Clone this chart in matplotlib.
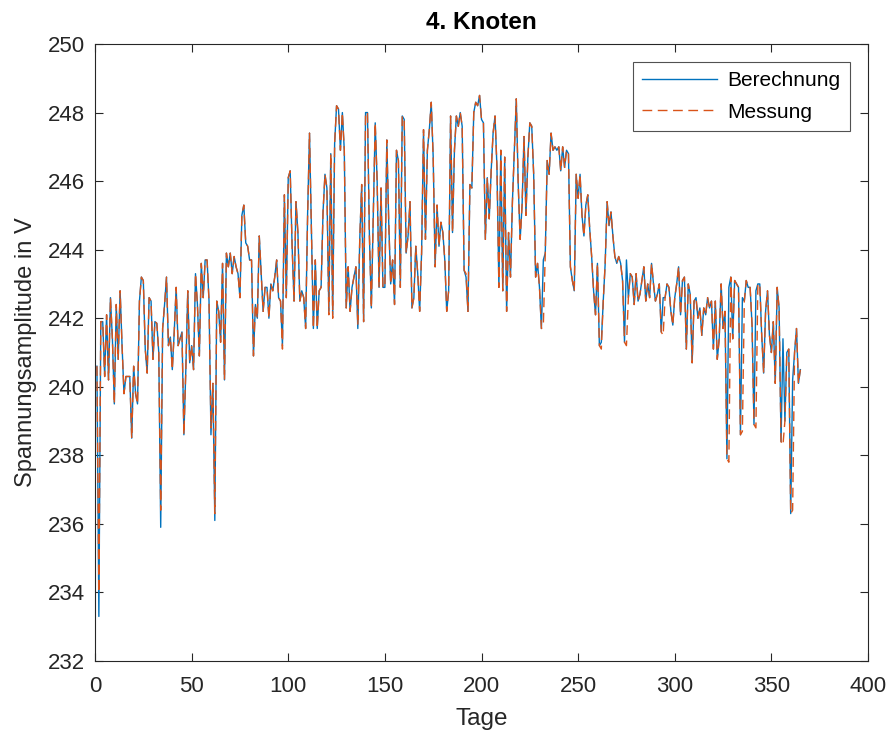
import matplotlib
matplotlib.use("Agg")
import matplotlib.pyplot as plt
import numpy as np

plt.rcParams['font.family'] = ['Liberation Sans', 'DejaVu Sans']

# Berechnung (calculated), day 1..365
berechnung = [
    240.6, 233.3, 241.9, 241.9, 240.3, 242.1, 240.2, 242.6, 241.4, 239.5,
    242.4, 240.8, 242.8, 241.2, 239.8, 240.3, 240.3, 240.3, 238.5, 240.6,
    239.8, 239.5, 242.5, 243.2, 243.1, 241.1, 240.4, 242.6, 242.5, 240.8,
    241.9, 241.85, 241.0, 235.9, 241.7, 242.4, 243.2, 241.2, 241.45, 240.5,
    241.6, 242.9, 241.2, 241.4, 241.6, 238.6, 240.5, 242.8, 240.7, 241.2,
    240.5, 243.3, 242.4, 240.9, 243.6, 242.6, 243.7, 243.7, 242.5, 238.6,
    240.1, 236.1, 242.5, 242.2, 241.3, 243.6, 240.2, 243.9, 243.5, 243.9,
    243.3, 243.8, 243.5, 243.3, 242.6, 245.0, 245.3, 244.2, 244.1, 243.7,
    243.7, 240.9, 242.4, 242.0, 244.4, 243.3, 242.2, 242.9, 242.9, 242.0,
    243.0, 242.8, 243.2, 243.7, 242.6, 242.5, 241.2, 245.6, 242.6, 246.1,
    246.3, 244.1, 242.5, 245.4, 244.5, 242.5, 242.8, 242.6, 241.7, 245.0,
    247.4, 244.6, 241.7, 243.7, 241.7, 242.8, 242.9, 245.1, 246.2, 245.8,
    242.2, 246.8, 242.1, 247.1, 248.2, 248.1, 246.9, 248.0, 246.9, 242.3,
    243.5, 242.2, 242.9, 243.2, 243.5, 241.7, 244.3, 245.9, 241.9, 248.0,
    248.0, 244.4, 242.3, 245.0, 247.7, 246.0, 242.9, 245.8, 242.9, 242.9,
    247.2, 244.8, 243.0, 243.7, 242.4, 246.9, 246.6, 242.9, 247.9, 247.8,
    243.9, 244.4, 245.4, 242.3, 242.6, 244.1, 243.3, 242.2, 243.9, 247.5,
    244.3, 246.9, 247.5, 248.3, 246.7, 243.5, 245.3, 244.1, 244.8, 244.5,
    243.7, 242.2, 242.8, 247.9, 244.5, 246.9, 247.9, 247.6, 248.0, 247.6,
    243.4, 243.2, 242.2, 245.9, 245.8, 248.0, 248.3, 248.2, 248.5, 247.8,
    247.7, 244.3, 246.1, 244.9, 246.3, 247.4, 247.9, 246.4, 242.9, 246.9,
    242.8, 246.7, 242.2, 244.5, 243.2, 245.4, 246.9, 248.4, 245.9, 244.3,
    245.3, 247.3, 245.0, 246.7, 247.7, 247.6, 246.2, 243.2, 243.6, 242.9,
    241.7, 243.7, 243.9, 246.6, 246.2, 247.4, 246.9, 247.0, 246.9, 247.0,
    246.3, 247.0, 246.4, 246.9, 246.8, 243.5, 243.1, 242.8, 246.2, 245.5,
    246.2, 245.0, 244.4, 245.3, 245.6, 244.6, 243.8, 242.8, 242.1, 243.6,
    241.2, 241.3, 242.5, 243.6, 245.4, 244.7, 245.1, 244.4, 243.8, 243.6,
    243.8, 243.6, 243.1, 241.3, 243.7, 242.6, 243.3, 243.2, 242.4, 243.3,
    242.5, 242.7, 243.1, 243.5, 242.5, 243.0, 242.6, 243.6, 243.0, 242.5,
    242.7, 243.0, 241.6, 242.6, 242.6, 243.0, 242.9, 242.2, 241.8, 242.6,
    243.0, 243.5, 242.1, 243.1, 243.2, 241.1, 243.0, 242.7, 240.7, 242.5,
    242.6, 242.0, 242.3, 241.5, 242.3, 242.1, 242.6, 242.3, 242.5, 241.1,
    242.5, 240.8, 241.4, 243.0, 241.7, 242.2, 237.9, 242.9, 243.2, 241.4,
    243.1, 243.0, 242.9, 238.6, 242.6, 242.5, 243.1, 242.9, 242.9, 241.8,
    238.9, 242.8, 243.0, 243.0, 241.5, 240.4, 242.2, 242.8, 241.5, 241.0,
    241.9, 240.1, 242.9, 242.3, 238.4, 241.4, 239.0, 241.0, 241.1, 236.3,
    240.2, 241.0, 241.7, 240.1, 240.5,
]

# Messung (measured): identical to Berechnung except at these days
messung_diff = {
    2: 234.0, 34: 236.4, 60: 238.8, 62: 236.3, 97: 241.1, 110: 244.9,
    121: 242.1, 123: 242.0, 136: 241.8, 192: 243.3, 232: 241.8,
    262: 241.1, 275: 241.2, 294: 241.5, 328: 237.8, 335: 238.7,
    342: 238.8, 356: 238.3, 361: 236.4,
}

days = np.arange(1, len(berechnung) + 1)
messung = [messung_diff.get(int(d), v) for d, v in zip(days, berechnung)]

fig = plt.figure(figsize=(8.91, 7.38), dpi=100)
ax = fig.add_axes([95/891, 1 - 661/738, (868 - 95)/891, (661 - 44)/738])

ax.plot(days, berechnung, color='#0072BD', lw=1.0, label='Berechnung')
ax.plot(days, messung, color='#D95319', lw=1.0, ls=(0, (7, 4)), label='Messung')

ax.set_xlim(0, 400)
ax.set_ylim(232, 250)
ax.set_xticks(np.arange(0, 401, 50))
ax.set_yticks(np.arange(232, 251, 2))

axcol = '#262626'
for s in ax.spines.values():
    s.set_color(axcol)
    s.set_linewidth(0.8)
ax.tick_params(direction='in', length=6, width=0.8, colors=axcol,
               labelsize=16, top=True, right=True, pad=7)
ax.tick_params(axis='x', pad=11)

ax.set_xlabel('Tage', fontsize=17.5, color=axcol, labelpad=8)
ax.set_ylabel('Spannungsamplitude in V', fontsize=17, color=axcol, labelpad=8)
ax.set_title('4. Knoten', fontsize=17.5, fontweight='bold', color='black', pad=11)

leg = ax.legend(loc='upper right', bbox_to_anchor=(0.9765, 0.971), fontsize=15,
                frameon=True, fancybox=False, edgecolor=axcol,
                handlelength=3.6, borderpad=0.45, labelspacing=0.6,
                handletextpad=0.5, borderaxespad=0.0)
leg.get_frame().set_linewidth(0.8)

fig.savefig('out.png', dpi=100)
